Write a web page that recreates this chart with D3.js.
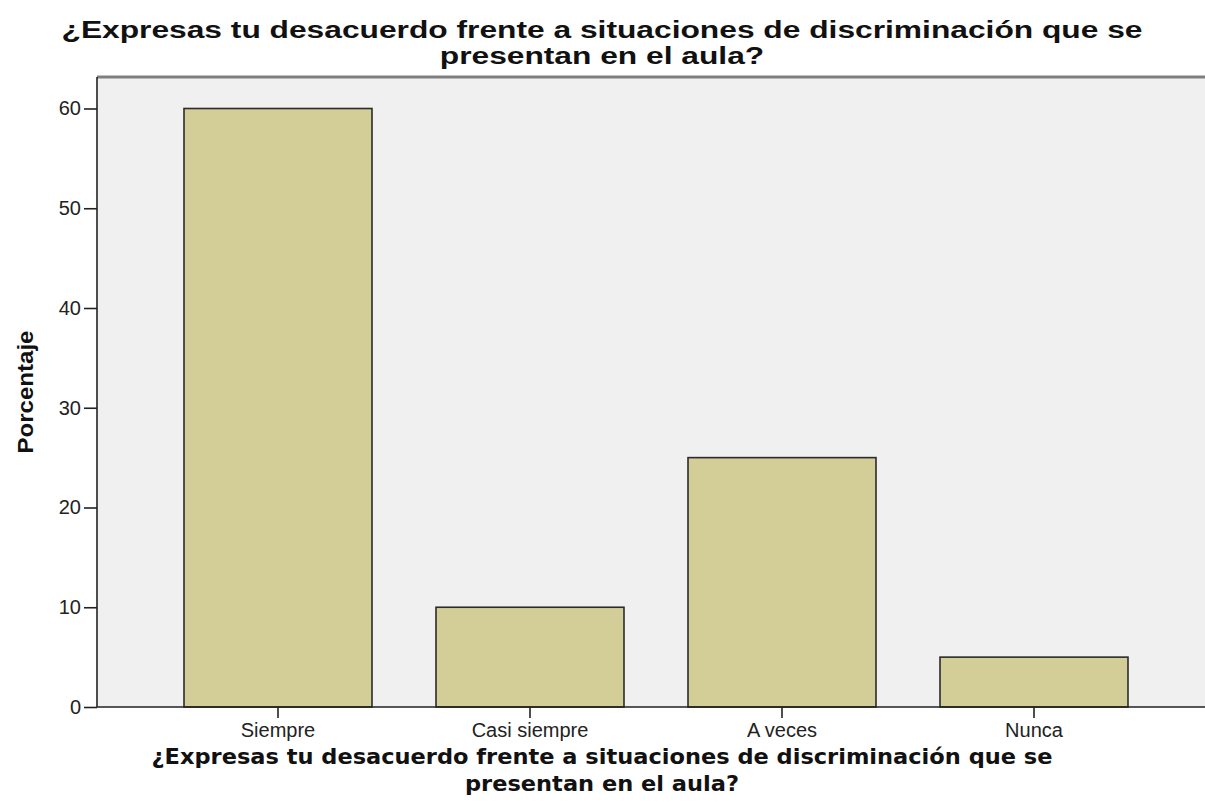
<!DOCTYPE html>
<html>
<head>
<meta charset="utf-8">
<script src="https://cdn.jsdelivr.net/npm/d3@7"></script>
<style>
  body { margin: 0; background: #fff; }
  svg { display: block; }
</style>
</head>
<body>
<div id="chart"></div>
<script>
// data
const categories = ["Siempre", "Casi siempre", "A veces", "Nunca"];
const percents = [60, 10, 25, 5];
const yTicks = [0, 10, 20, 30, 40, 50, 60];
const titleLines = ["¿Expresas tu desacuerdo frente a situaciones de discriminación que se", "presentan en el aula?"];
const xTitleLines = ["¿Expresas tu desacuerdo frente a situaciones de discriminación que se", "presentan en el aula?"];
const yTitle = "Porcentaje";

const W = 1205, H = 806;
const plot = { left: 97, top: 77, right: 1215, bottom: 707 };

const svg = d3.select("#chart").append("svg")
    .attr("width", W)
    .attr("height", H);

// plot background
svg.append("rect")
    .attr("x", plot.left)
    .attr("y", plot.top)
    .attr("width", plot.right - plot.left)
    .attr("height", plot.bottom - plot.top)
    .attr("fill", "#f0f0f0");

// top frame line
svg.append("line")
    .attr("x1", plot.left).attr("x2", plot.right)
    .attr("y1", plot.top).attr("y2", plot.top)
    .attr("stroke", "#7f7f7f")
    .attr("stroke-width", 3);

const x = d3.scaleBand()
    .domain(categories)
    .range([152, 1160])
    .paddingInner(0.254)
    .paddingOuter(0.127);

const y = d3.scaleLinear()
    .domain([0, 60])
    .range([plot.bottom, 108.5]);

// bars
svg.append("g")
    .selectAll("rect")
    .data(categories)
    .join("rect")
    .attr("x", d => x(d))
    .attr("y", (d, i) => y(percents[i]))
    .attr("width", x.bandwidth())
    .attr("height", (d, i) => y(0) - y(percents[i]))
    .attr("fill", "#d3ce97")
    .attr("stroke", "#2b2b2b")
    .attr("stroke-width", 1.6);

// y axis
const yAxis = svg.append("g")
    .attr("transform", `translate(${plot.left},0)`)
    .call(d3.axisLeft(y).tickValues(yTicks).tickSize(13).tickPadding(3).tickFormat(d3.format("d")));
yAxis.select(".domain")
    .attr("d", `M0,${plot.top}V${plot.bottom}`)
    .attr("stroke", "#222")
    .attr("stroke-width", 1.6);
yAxis.selectAll(".tick line").attr("stroke", "#222").attr("stroke-width", 1.6);
yAxis.selectAll("text")
    .attr("fill", "#222")
    .style("font-family", "'Liberation Sans', Arial, sans-serif")
    .style("font-size", "20px");

// x axis
const xAxis = svg.append("g")
    .attr("transform", `translate(0,${plot.bottom})`)
    .call(d3.axisBottom(x).tickSize(11).tickPadding(5));
xAxis.select(".domain")
    .attr("d", `M${plot.left},0H${plot.right}`)
    .attr("stroke", "#222")
    .attr("stroke-width", 1.6);
xAxis.selectAll(".tick line").attr("stroke", "#222").attr("stroke-width", 1.6);
xAxis.selectAll("text")
    .attr("fill", "#222")
    .style("font-family", "'Liberation Sans', Arial, sans-serif")
    .style("font-size", "20px");

// stretch two-line titles so the first line fills the given width
function stretchLines(sel, firstWidth) {
    const nodes = sel.nodes();
    const ratio = firstWidth / nodes[0].getComputedTextLength();
    nodes.forEach(n => {
        n.setAttribute("textLength", n.getComputedTextLength() * ratio);
        n.setAttribute("lengthAdjust", "spacingAndGlyphs");
    });
}

// chart title
const title = svg.append("g")
    .selectAll("text")
    .data(titleLines)
    .join("text")
    .attr("x", 602)
    .attr("y", (d, i) => 38 + i * 26)
    .attr("text-anchor", "middle")
    .style("font-family", "'Liberation Sans', Arial, sans-serif")
    .style("font-weight", "bold")
    .style("font-size", "23px")
    .attr("fill", "#111")
    .text(d => d);
stretchLines(title, 1081);

// x axis title
const xTitle = svg.append("g")
    .selectAll("text")
    .data(xTitleLines)
    .join("text")
    .attr("x", 602)
    .attr("y", (d, i) => 764 + i * 27)
    .attr("text-anchor", "middle")
    .style("font-family", "'DejaVu Sans', Verdana, sans-serif")
    .style("font-weight", "bold")
    .style("font-size", "21px")
    .attr("fill", "#111")
    .text(d => d);
stretchLines(xTitle, 901);

// y axis title
svg.append("text")
    .attr("transform", "translate(33,392) rotate(-90)")
    .attr("text-anchor", "middle")
    .style("font-family", "'Liberation Sans', Arial, sans-serif")
    .style("font-weight", "bold")
    .style("font-size", "22px")
    .attr("textLength", 123)
    .attr("lengthAdjust", "spacingAndGlyphs")
    .attr("fill", "#111")
    .text(yTitle);
</script>
</body>
</html>
